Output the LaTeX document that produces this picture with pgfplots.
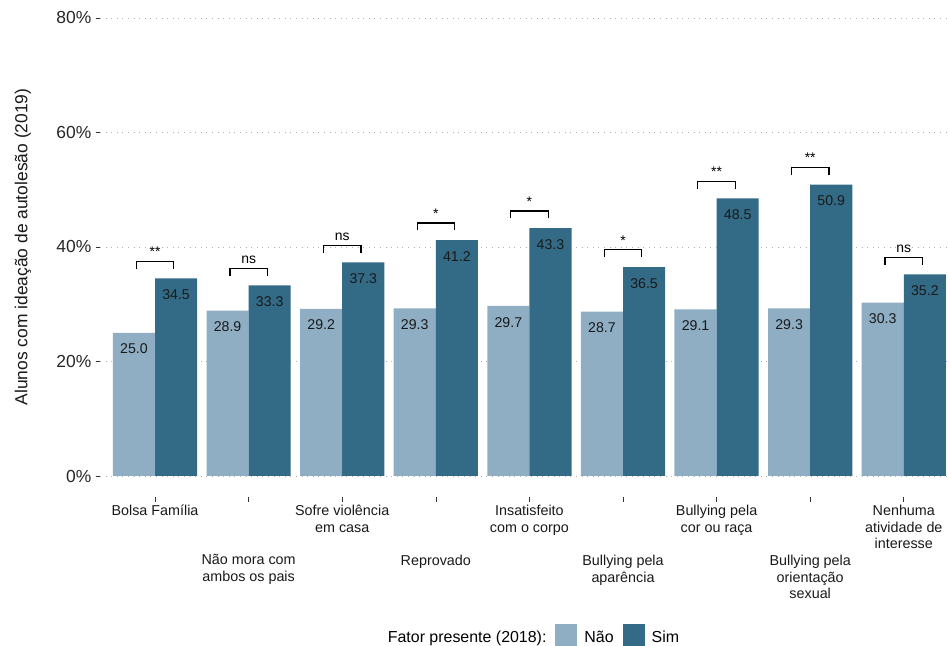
\documentclass[border=0pt]{standalone}
\usepackage{fontspec}
\setmainfont{Liberation Sans}
\usepackage{pgfplots}
\pgfplotsset{compat=1.18}
\definecolor{nao}{HTML}{8FAEC4}
\definecolor{sim}{HTML}{336B87}
\begin{document}
\begin{tikzpicture}
\begin{axis}[
  at={(100bp,170bp)}, anchor=south west,
  scale only axis, width=849bp, height=458bp,
  xmin=0.412, xmax=9.483, ymin=0, ymax=80,
  axis lines*=left, axis line style={draw=none},
  ytick={0,20,40,60,80},
  yticklabel={\pgfmathprintnumber{\tick}\%},
  /pgf/number format/assume math mode=true,
  yticklabel style={font=\fontsize{17.5}{20}\selectfont, inner sep=0pt, xshift=-4bp, text=black!85},
  ymajorgrids, major grid style={gray!60, line width=0.8bp, dash pattern=on 1bp off 4.6bp},
  tick align=outside,
  major tick length=4.5bp,
  major tick style={black!80, line width=0.6bp},
  xtick={1,3,5,7,9},
  xticklabels={Bolsa Família, {Sofre violência\\em casa}, {Insatisfeito\\com o corpo}, {Bullying pela\\cor ou raça}, {Nenhuma\\atividade de\\interesse}},
  xticklabel style={align=center, font=\fontsize{14.4}{17}\selectfont, inner sep=0pt, yshift=-24bp, text=black!90},
  extra x ticks={2,4,6,8},
  extra x tick labels={{Não mora com\\ambos os pais}, Reprovado, {Bullying pela\\aparência}, {Bullying pela\\orientação\\sexual}},
  extra x tick style={xticklabel style={yshift=-50bp}},
  xtick style={yshift=-21bp},
  bar width=0.45,
  ylabel={Alunos com ideação de autolesão (2019)},
  every axis y label/.style={at={(axis description cs:-0.0907,0.5)}, rotate=90, anchor=center,
    font=\fontsize{17.5}{20}\selectfont, text=black!90},
  legend columns=3,
  legend style={draw=none, fill=none, at={(0.5106,-0.347)}, anchor=center,
    font=\fontsize{16}{19}\selectfont,
    /tikz/every even column/.append style={column sep=7bp}},
  legend image code/.code={\fill[#1] (0bp,-8.8bp) rectangle (22bp,13.2bp); \path (27bp,0bp);},
]
\addlegendimage{empty legend}
\addlegendentry{Fator presente (2018):}
\addplot[ybar, bar shift=0pt, fill=nao, draw=none,
  nodes near coords={\pgfmathprintnumber[fixed,fixed zerofill,precision=1]{\pgfplotspointmeta}},
  point meta=y,
  every node near coord/.append style={anchor=north, inner sep=0pt, yshift=-11bp, font=\fontsize{14.2}{17}\selectfont, text=black!90}]
  coordinates {(0.775,25.0) (1.775,28.9) (2.775,29.2) (3.775,29.3) (4.775,29.7) (5.775,28.7) (6.775,29.1) (7.775,29.3) (8.775,30.3)};
\addlegendentry{Não}
\addplot[ybar, bar shift=0pt, fill=sim, draw=none,
  nodes near coords={\pgfmathprintnumber[fixed,fixed zerofill,precision=1]{\pgfplotspointmeta}},
  point meta=y,
  every node near coord/.append style={anchor=north, inner sep=0pt, yshift=-11bp, font=\fontsize{14.2}{17}\selectfont, text=black!90}]
  coordinates {(1.225,34.5) (2.225,33.3) (3.225,37.3) (4.225,41.2) (5.225,43.3) (6.225,36.5) (7.225,48.5) (8.225,50.9) (9.225,35.2)};
\addlegendentry{Sim}
% significance brackets
\addplot[black, line width=1.2bp, forget plot, mark=none] coordinates {(0.8,36.2) (0.8,37.5) (1.2,37.5) (1.2,36.2)};
\addplot[black, line width=1.2bp, forget plot, mark=none] coordinates {(1.8,35.0) (1.8,36.3) (2.2,36.3) (2.2,35.0)};
\addplot[black, line width=1.2bp, forget plot, mark=none] coordinates {(2.8,39.0) (2.8,40.3) (3.2,40.3) (3.2,39.0)};
\addplot[black, line width=1.2bp, forget plot, mark=none] coordinates {(3.8,42.9) (3.8,44.2) (4.2,44.2) (4.2,42.9)};
\addplot[black, line width=1.2bp, forget plot, mark=none] coordinates {(4.8,45.0) (4.8,46.3) (5.2,46.3) (5.2,45.0)};
\addplot[black, line width=1.2bp, forget plot, mark=none] coordinates {(5.8,38.2) (5.8,39.5) (6.2,39.5) (6.2,38.2)};
\addplot[black, line width=1.2bp, forget plot, mark=none] coordinates {(6.8,50.2) (6.8,51.5) (7.2,51.5) (7.2,50.2)};
\addplot[black, line width=1.2bp, forget plot, mark=none] coordinates {(7.8,52.6) (7.8,53.9) (8.2,53.9) (8.2,52.6)};
\addplot[black, line width=1.2bp, forget plot, mark=none] coordinates {(8.8,36.9) (8.8,38.2) (9.2,38.2) (9.2,36.9)};
\begin{scope}[every node/.style={anchor=base, inner sep=0pt, yshift=4.5bp, font=\fontsize{14}{17}\selectfont}]
\node at (axis cs:1,37.5) {**};
\node at (axis cs:2,36.3) {ns};
\node at (axis cs:3,40.3) {ns};
\node at (axis cs:4,44.2) {*};
\node at (axis cs:5,46.3) {*};
\node at (axis cs:6,39.5) {*};
\node at (axis cs:7,51.5) {**};
\node at (axis cs:8,53.9) {**};
\node at (axis cs:9,38.2) {ns};
\end{scope}
\end{axis}
\pgfresetboundingbox
\path[use as bounding box] (0,0) rectangle (949bp,646bp);
\end{tikzpicture}
\end{document}
